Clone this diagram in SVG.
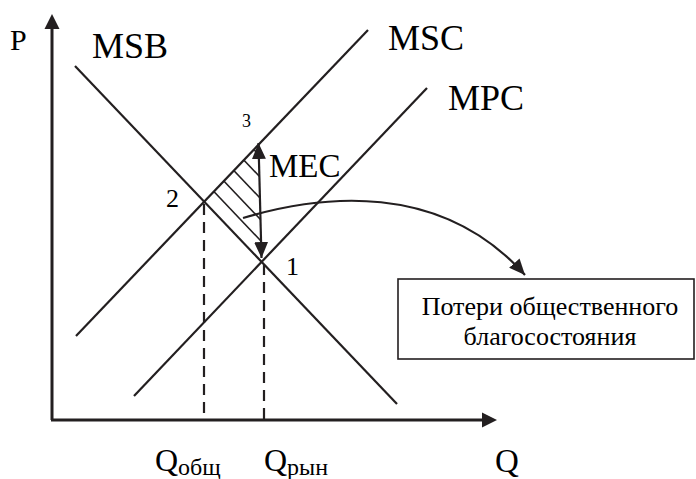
<svg xmlns="http://www.w3.org/2000/svg" width="696" height="479" viewBox="0 0 696 479">
<style>
.ln{stroke:#231f20;stroke-width:2.2;fill:none}
.ax{stroke:#231f20;stroke-width:3;fill:none}
.dash{stroke:#231f20;stroke-width:2.2;fill:none;stroke-dasharray:11 7}
.hatch{stroke:#231f20;stroke-width:1.6;fill:none}
</style>
<defs>
<marker id="ah" viewBox="0 0 16 14" refX="16" refY="7" markerWidth="16" markerHeight="14" markerUnits="userSpaceOnUse" orient="auto">
<path d="M0,0 L16,7 L0,14 Z" fill="#231f20"/>
</marker>
<marker id="ahs" viewBox="0 0 16 14" refX="0" refY="7" markerWidth="16" markerHeight="14" markerUnits="userSpaceOnUse" orient="auto">
<path d="M16,0 L0,7 L16,14 Z" fill="#231f20"/>
</marker>
<clipPath id="tri"><polygon points="204,202 259,144 262,262"/></clipPath>
</defs>
<rect width="696" height="479" fill="#fff"/>

<g id="axes">
<path class="ax" d="M52,420 L52,28" />
<polygon points="52,14 44.5,29 59.5,29" fill="#231f20"/>
<path class="ax" d="M51,420 L483,420" />
<polygon points="497,420 482,412.5 482,427.5" fill="#231f20"/>
<text x="10" y="50" font-size="30" font-family="Liberation Serif, Times New Roman, serif">P</text>
<text x="495" y="472" font-size="33" font-family="Liberation Serif, Times New Roman, serif">Q</text>
</g>

<g id="msb">
<line class="ln" x1="75" y1="66" x2="397" y2="404"/>
<text x="92" y="58" font-size="36" font-family="Liberation Serif, Times New Roman, serif">MSB</text>
</g>

<g id="msc">
<line class="ln" x1="76" y1="336" x2="368" y2="30"/>
<text x="388" y="50" font-size="36" font-family="Liberation Serif, Times New Roman, serif">MSC</text>
</g>

<g id="mpc">
<line class="ln" x1="134" y1="396" x2="427" y2="88"/>
<text x="448" y="110" font-size="36" font-family="Liberation Serif, Times New Roman, serif">MPC</text>
</g>

<g id="hatching" clip-path="url(#tri)">
<line class="hatch" x1="190" y1="166.5" x2="270" y2="250.5"/>
<line class="hatch" x1="190" y1="145.5" x2="270" y2="229.5"/>
<line class="hatch" x1="190" y1="124.5" x2="270" y2="208.5"/>
<line class="hatch" x1="190" y1="103.5" x2="270" y2="187.5"/>
<line class="hatch" x1="190" y1="82.5" x2="270" y2="166.5"/>
</g>

<g id="points">
<text x="166" y="207" font-size="26" font-family="Liberation Serif, Times New Roman, serif">2</text>
<text x="286" y="275" font-size="26" font-family="Liberation Serif, Times New Roman, serif">1</text>
<text x="242" y="127" font-size="18" font-family="Liberation Serif, Times New Roman, serif">3</text>
<text x="269" y="177" font-size="33" font-family="Liberation Serif, Times New Roman, serif">MEC</text>
</g>

<g id="qlabels">
<text x="155" y="471" font-size="32" font-family="Liberation Serif, Times New Roman, serif">Q<tspan font-size="24" dy="4">общ</tspan></text>
<text x="264" y="471" font-size="32" font-family="Liberation Serif, Times New Roman, serif">Q<tspan font-size="24" dy="4">рын</tspan></text>
</g>

<g id="box">
<rect x="398" y="279" width="296" height="80" fill="#fff" stroke="#231f20" stroke-width="1.6"/>
<text x="550" y="315" font-size="26" text-anchor="middle" font-family="Liberation Serif, Times New Roman, serif">Потери общественного</text>
<text x="550" y="345" font-size="26" text-anchor="middle" font-family="Liberation Serif, Times New Roman, serif">благосостояния</text>
</g>

<g id="connectors">
<line class="dash" x1="204" y1="204" x2="204" y2="419"/>
<line class="dash" x1="264" y1="264" x2="264" y2="419"/>
<line class="ln" x1="258.5" y1="143" x2="261.5" y2="258" marker-start="url(#ahs)" marker-end="url(#ah)"/>
<path class="ln" d="M243,218 C320,195 440,180 525,275" marker-end="url(#ah)"/>
</g>
</svg>
